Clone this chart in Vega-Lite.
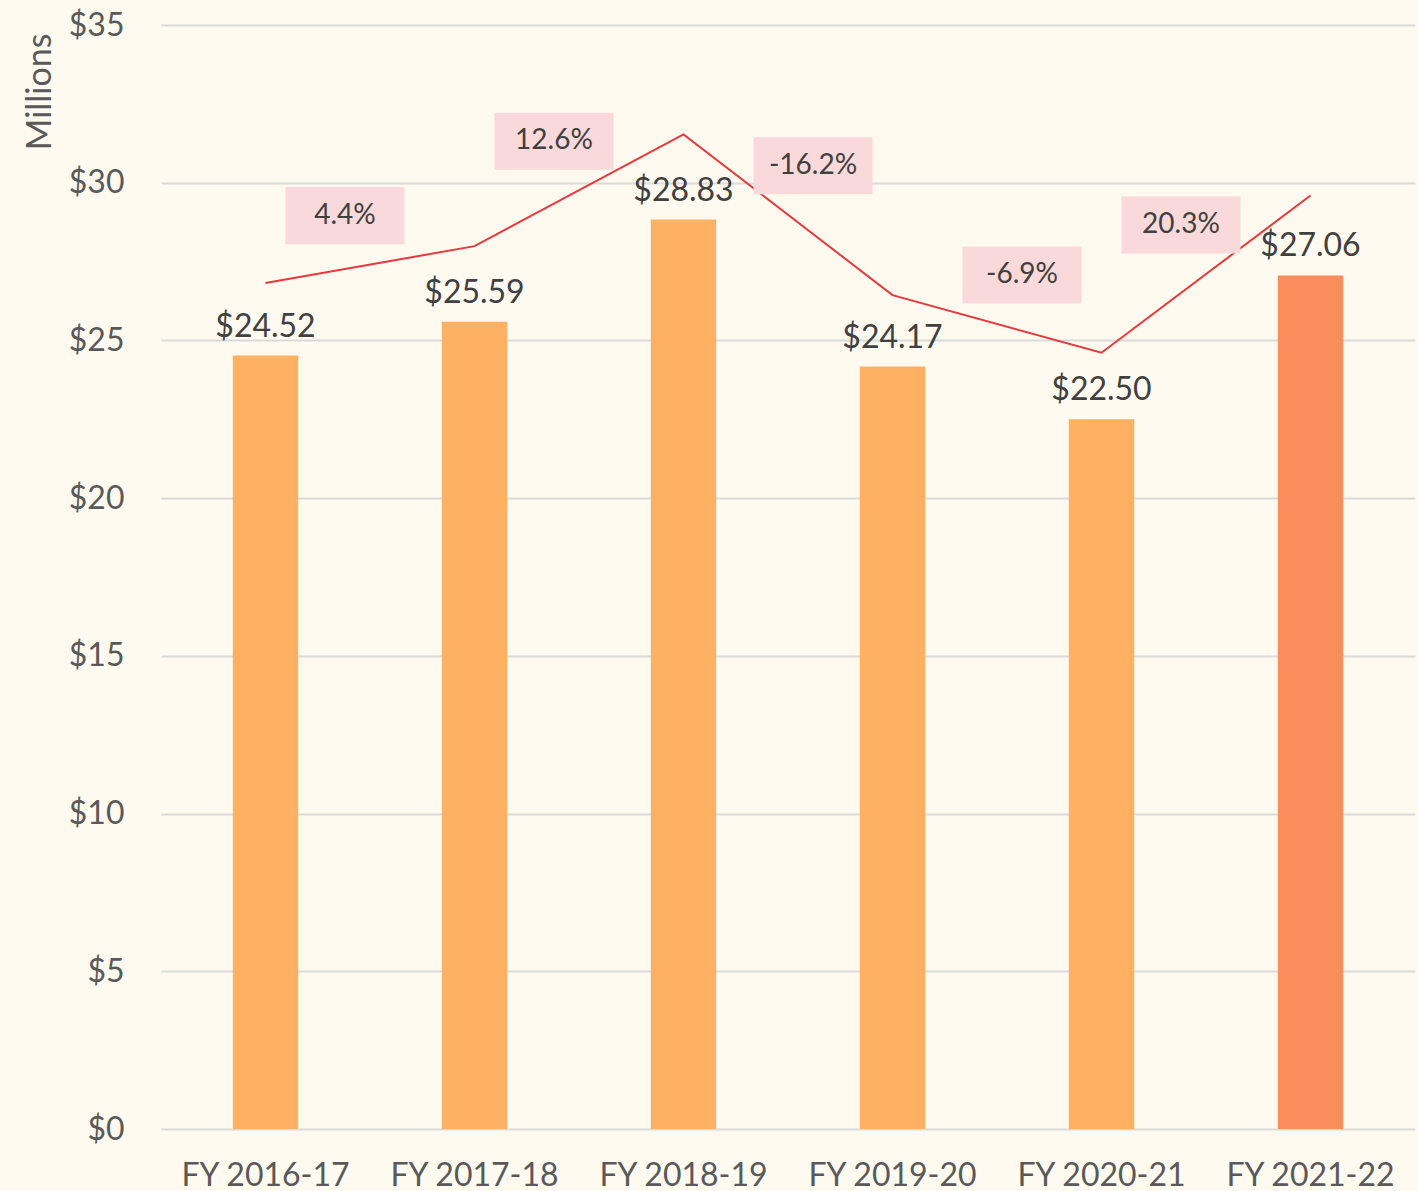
{
  "$schema": "https://vega.github.io/schema/vega-lite/v6.json",
  "width": 1254,
  "height": 1104,
  "autosize": {"type": "none"},
  "padding": {"left": 161, "top": 25, "right": 3, "bottom": 62},
  "background": "#FFFAF0",
  "config": {"view": {"stroke": null}, "font": "Lato"},
  "datasets": {
    "revenue": [
      {"year": "FY 2016-17", "rev": 24.52},
      {"year": "FY 2017-18", "rev": 25.59},
      {"year": "FY 2018-19", "rev": 28.83},
      {"year": "FY 2019-20", "rev": 24.17},
      {"year": "FY 2020-21", "rev": 22.50},
      {"year": "FY 2021-22", "rev": 27.06}
    ],
    "changes": [
      {"to": "FY 2017-18", "change": "4.4%", "prev": 24.52, "rev": 25.59},
      {"to": "FY 2018-19", "change": "12.6%", "prev": 25.59, "rev": 28.83},
      {"to": "FY 2019-20", "change": "-16.2%", "prev": 28.83, "rev": 24.17},
      {"to": "FY 2020-21", "change": "-6.9%", "prev": 24.17, "rev": 22.50},
      {"to": "FY 2021-22", "change": "20.3%", "prev": 22.50, "rev": 27.06}
    ]
  },
  "layer": [
    {
      "data": {"name": "revenue"},
      "encoding": {
        "x": {
          "field": "year",
          "type": "nominal",
          "sort": null,
          "scale": {
            "domain": ["FY 2016-17", "FY 2017-18", "FY 2018-19", "FY 2019-20", "FY 2020-21", "FY 2021-22"],
            "paddingInner": 0,
            "paddingOuter": 0
          },
          "axis": {
            "title": null,
            "labelAngle": 0,
            "labelFontSize": 32,
            "labelColor": "#595959",
            "labelPadding": 31,
            "ticks": false,
            "domain": false,
            "grid": false
          }
        },
        "y": {
          "field": "rev",
          "type": "quantitative",
          "scale": {"domain": [0, 35], "nice": false},
          "axis": {
            "values": [0, 5, 10, 15, 20, 25, 30, 35],
            "labelExpr": "'$' + datum.value",
            "labelFontSize": 32,
            "labelColor": "#595959",
            "labelPadding": 37,
            "ticks": false,
            "domain": false,
            "grid": true,
            "gridColor": "#DADADA",
            "gridWidth": 2,
            "title": "Millions",
            "titleFontSize": 34,
            "titleFontWeight": "normal",
            "titleColor": "#595959",
            "titleAngle": -90,
            "titleAlign": "right",
            "titleBaseline": "middle",
            "titleX": -121,
            "titleY": 8
          }
        }
      },
      "layer": [
        {
          "mark": {"type": "bar", "width": {"band": 0.313}},
          "encoding": {
            "color": {
              "field": "year",
              "type": "nominal",
              "scale": {
                "domain": ["FY 2016-17", "FY 2017-18", "FY 2018-19", "FY 2019-20", "FY 2020-21", "FY 2021-22"],
                "range": ["#FFB163", "#FFB163", "#FFB163", "#FFB163", "#FFB163", "#F98D5B"]
              },
              "legend": null
            }
          }
        },
        {
          "mark": {"type": "text", "baseline": "alphabetic", "dy": -19, "fontSize": 32, "color": "#404040"},
          "encoding": {
            "text": {"field": "rev", "type": "quantitative", "format": "$.2f"}
          }
        }
      ]
    },
    {
      "layer": [
        {
          "data": {"name": "revenue"},
          "mark": {"type": "line", "color": "#E8383D", "strokeWidth": 2},
          "encoding": {
            "x": {"field": "year", "type": "nominal", "sort": null},
            "y": {"field": "rev", "type": "quantitative", "scale": {"domain": [0, 32], "nice": false}, "axis": null}
          }
        },
        {
          "data": {"name": "changes"},
          "transform": [
            {"calculate": "(datum.prev + datum.rev) / 2", "as": "mid"},
            {"filter": "datum.rev >= datum.prev"}
          ],
          "encoding": {
            "x": {"field": "to", "type": "nominal", "sort": null, "bandPosition": 0},
            "y": {"field": "mid", "type": "quantitative", "axis": null}
          },
          "layer": [
            {
              "mark": {
                "type": "point",
                "shape": "M-1.42,-1.303L0.58,-1.303L0.58,-0.344L-1.42,-0.344Z",
                "size": 14161,
                "filled": true,
                "color": "#FAD9DA",
                "opacity": 1,
                "strokeWidth": 0
              }
            },
            {
              "mark": {"type": "text", "dx": -25, "dy": -49, "fontSize": 28, "color": "#404040", "baseline": "middle"},
              "encoding": {"text": {"field": "change", "type": "nominal"}}
            }
          ]
        },
        {
          "data": {"name": "changes"},
          "transform": [
            {"calculate": "(datum.prev + datum.rev) / 2", "as": "mid"},
            {"filter": "datum.rev < datum.prev"}
          ],
          "encoding": {
            "x": {"field": "to", "type": "nominal", "sort": null, "bandPosition": 0},
            "y": {"field": "mid", "type": "quantitative", "axis": null}
          },
          "layer": [
            {
              "mark": {
                "type": "point",
                "shape": "M-0.58,-1.303L1.42,-1.303L1.42,-0.344L-0.58,-0.344Z",
                "size": 14161,
                "filled": true,
                "color": "#FAD9DA",
                "opacity": 1,
                "strokeWidth": 0
              }
            },
            {
              "mark": {"type": "text", "dx": 25, "dy": -49, "fontSize": 28, "color": "#404040", "baseline": "middle"},
              "encoding": {"text": {"field": "change", "type": "nominal"}}
            }
          ]
        }
      ]
    }
  ],
  "resolve": {"scale": {"y": "independent"}}
}
